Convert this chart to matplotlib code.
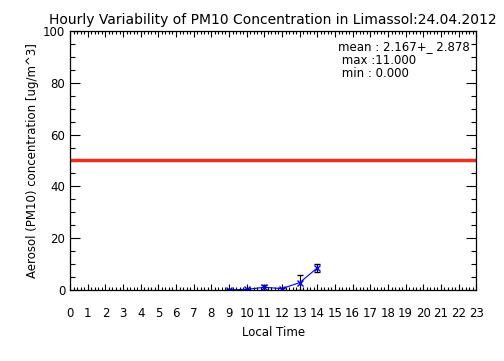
import matplotlib
matplotlib.use("Agg")
import matplotlib.pyplot as plt
from matplotlib.ticker import MultipleLocator

# Hourly PM10 values
hours = [9, 10, 11, 12, 13, 14]
pm10 = [0.0, 0.2, 1.0, 0.5, 2.8, 8.5]
pm10_err = [0.2, 0.3, 1.0, 0.4, 3.0, 1.6]
limit_value = 50
hour_ticks = list(range(0, 24))
stats_text = "mean : 2.167+_ 2.878\n max :11.000\n min : 0.000"

fig = plt.figure(figsize=(5.04, 3.61), dpi=100)
ax = fig.add_axes([0.139, 0.197, 0.806, 0.717])

ax.axhline(limit_value, color="#e8321e", linewidth=2.5)
ax.errorbar(hours, pm10, yerr=pm10_err, color="blue", ecolor="black",
            elinewidth=0.8, capsize=2.5, capthick=0.8,
            marker="x", markersize=4, markeredgewidth=1.0, linewidth=0.8)

ax.set_xlim(0, 23)
ax.set_ylim(0, 100)
ax.set_xticks(hour_ticks)
ax.set_xticklabels([str(h) for h in hour_ticks])
ax.xaxis.set_minor_locator(MultipleLocator(0.2))
ax.yaxis.set_major_locator(MultipleLocator(20))
ax.yaxis.set_minor_locator(MultipleLocator(5))
ax.tick_params(which="both", direction="in", top=True, right=True, width=0.8)
ax.tick_params(which="major", length=7, labelsize=8.5)
ax.tick_params(which="minor", length=3.5)
ax.tick_params(axis="x", which="major", length=4, pad=12)
ax.tick_params(axis="x", which="minor", length=2.5)
for s in ax.spines.values():
    s.set_linewidth(0.9)

ax.set_title("Hourly Variability of PM10 Concentration in Limassol:24.04.2012",
             fontsize=10, pad=5)
ax.set_xlabel("Local Time", fontsize=8.5, labelpad=5)
ax.set_ylabel("Aerosol (PM10) concentration [ug/m^3]", fontsize=8.5, labelpad=3)
ax.text(0.66, 0.965, stats_text, transform=ax.transAxes, fontsize=8.5,
        va="top", ha="left", linespacing=1.05)

fig.savefig("out.png", dpi=100)
